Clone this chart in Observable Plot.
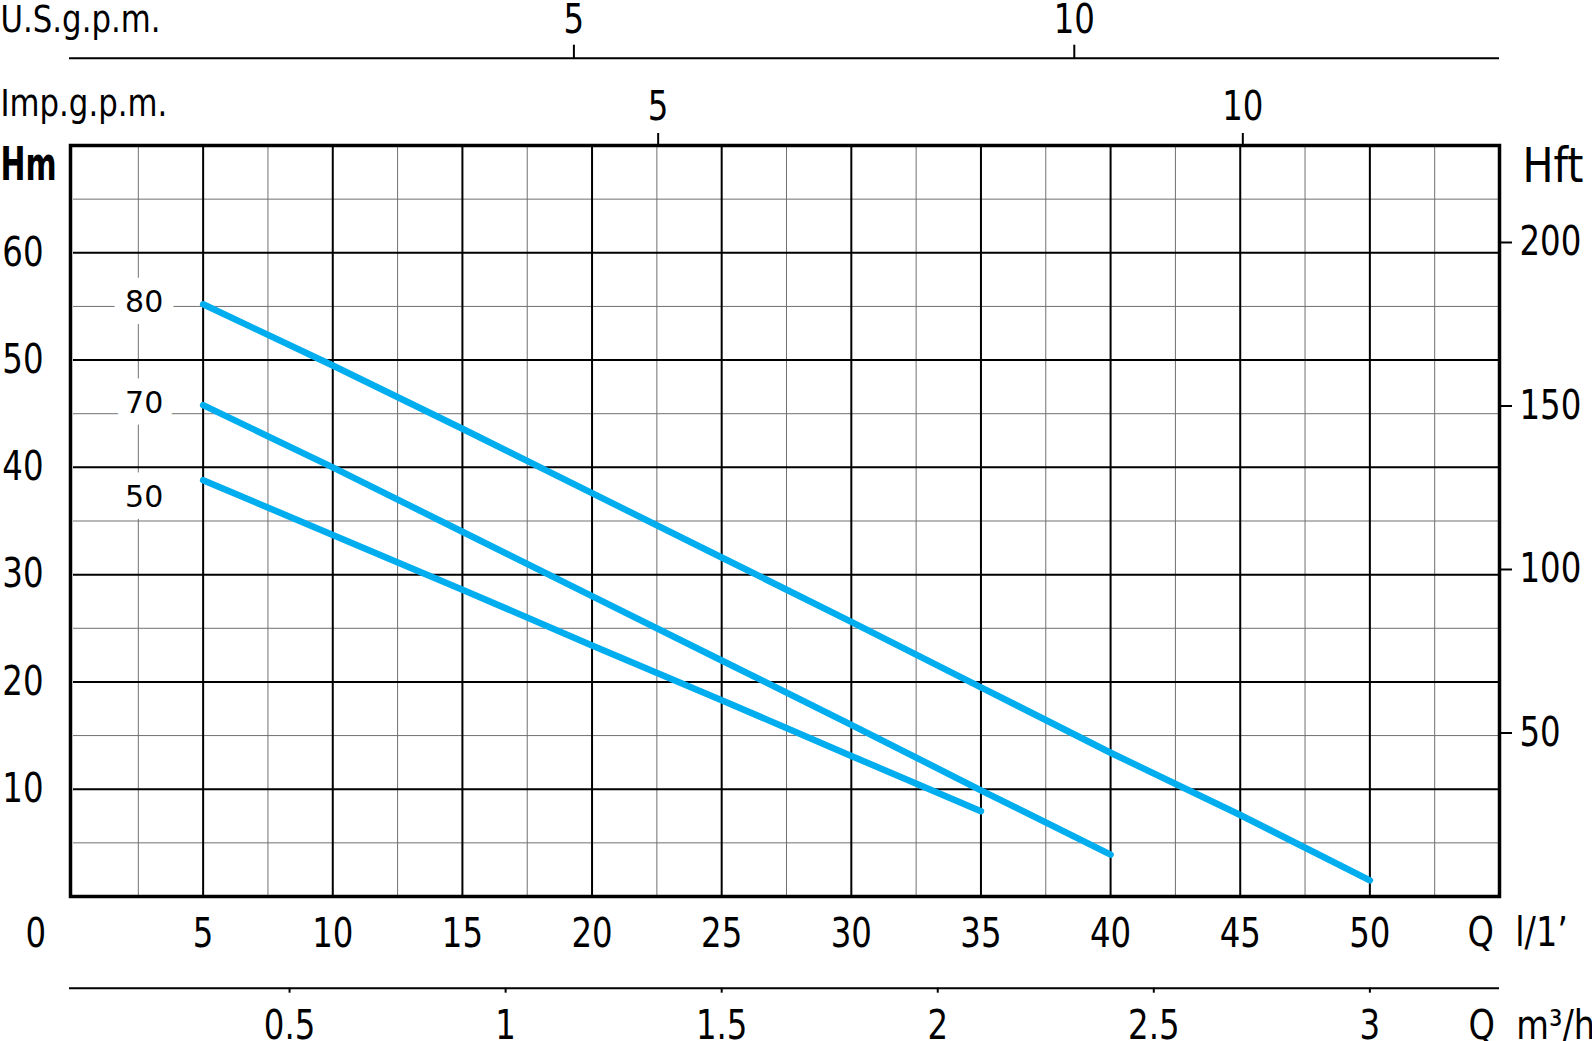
<!DOCTYPE html>
<html><head><meta charset="utf-8">
<script src="https://cdn.jsdelivr.net/npm/d3@7"></script>
<script src="https://cdn.jsdelivr.net/npm/@observablehq/plot@0.6"></script>
<style>html,body{margin:0;padding:0;background:#fff;}</style>
</head><body><div id="chart"></div>
<script>
// Pump curves: flow Q (l/min) vs head H (m), per model
const flow80 = [5, 10, 15, 20, 25, 30, 35, 40, 45, 50];
const head80 = [55.2, 49.5, 43.6, 37.6, 31.6, 25.6, 19.5, 13.4, 7.6, 1.5];
const flow70 = [5, 10, 15, 20, 25, 30, 35, 40];
const head70 = [45.8, 40.0, 34.0, 28.0, 22.0, 16.0, 9.9, 3.9];
const flow50 = [5, 10, 15, 20, 25, 30, 35];
const head50 = [38.8, 33.7, 28.6, 23.4, 18.3, 13.1, 7.95];
const models = ["80", "70", "50"];

// tick labels
const qTicks = [5, 10, 15, 20, 25, 30, 35, 40, 45, 50];       // l/min
const hmTicks = [10, 20, 30, 40, 50, 60];                      // m
const hftTicks = [50, 100, 150, 200];                          // ft
const usTicks = [5, 10];                                       // U.S. g.p.m.
const impTicks = [5, 10];                                      // Imp. g.p.m.
const m3hTicks = [0.5, 1, 1.5, 2, 2.5, 3];                     // m3/h
const minorQ = [2.5, 7.5, 12.5, 17.5, 22.5, 27.5, 32.5, 37.5, 42.5, 47.5, 52.5];
const minorH = [5, 15, 25, 35, 45, 55, 65];

// unit conversions (litres per gallon as drawn on the chart)
const US_GAL = 3.86, IMP_GAL = 4.51, M3H = 1000 / 60, FT = 0.3048;

const series = {"80": [flow80, head80], "70": [flow70, head70], "50": [flow50, head50]};
const rows = models.flatMap(m => series[m][0].map((q, i) => ({model: m, q, h: series[m][1][i]})));
const starts = models.map(m => rows.find(r => r.model === m));
const labelDy = {"80": -1.5, "70": -2, "50": 17};

const font = "'DejaVu Sans',sans-serif";
const fs = 40;

const chart = Plot.plot({
  width: 1592, height: 1041,
  marginLeft: 73, marginRight: 93, marginTop: 145, marginBottom: 145,
  x: {domain: [0, 55], axis: null},
  y: {domain: [0, 70], axis: null},
  style: {fontFamily: font, fontSize: fs + "px", color: "black", background: "white", overflow: "visible"},
  marks: [
    Plot.ruleX(minorQ, {stroke: "#707070", strokeWidth: 1}),
    Plot.ruleY(minorH, {stroke: "#707070", strokeWidth: 1}),
    Plot.ruleX(qTicks, {stroke: "black", strokeWidth: 2}),
    Plot.ruleY(hmTicks, {stroke: "black", strokeWidth: 2}),
    ...models.map(m => Plot.text(starts.filter(d => d.model === m), {
      x: "q", y: "h", text: "model", dx: -59, dy: labelDy[m],
      fontFamily: "DejaVu Sans", fontSize: 30, fill: "black",
      stroke: "white", strokeWidth: 25, className: "curvelabel"
    })),
    Plot.line(rows, {x: "q", y: "h", z: "model", stroke: "#00aeef", strokeWidth: 6.5, strokeLinecap: "round"}),
    Plot.frame({stroke: "black", strokeWidth: 3.5, insetLeft: -3}),
    // bottom Q l/min
    Plot.axisX({anchor: "bottom", ticks: qTicks, tickSize: 0, tickPadding: 22, label: null, fontSize: fs}),
    Plot.text(["0"], {frameAnchor: "bottom-left", dx: -48, dy: 22, lineAnchor: "top", fontSize: fs}),
    Plot.text(["Q  l/1\u2019"], {frameAnchor: "bottom-right", dx: -32, dy: 21, lineAnchor: "top", textAnchor: "start", fontSize: 40, className: "qlab"}),
    // left Hm
    Plot.axisY({anchor: "left", ticks: hmTicks, tickSize: 0, tickPadding: 30, label: null, fontSize: fs}),
    Plot.text(["Hm"], {frameAnchor: "top-left", dx: -73, dy: 2, lineAnchor: "top", textAnchor: "start", fontWeight: "bold", fontSize: 46, className: "hm"}),
    // right Hft
    Plot.axisY({anchor: "right", ticks: hftTicks.map(f => f * FT), tickFormat: d => Math.round(d / FT),
      tickSize: 12, tickPadding: 8, strokeWidth: 2, label: null, fontSize: fs}),
    Plot.text(["Hft"], {frameAnchor: "top-right", dx: 23, dy: 2, lineAnchor: "top", textAnchor: "start", fontSize: 48, className: "hft"}),
    // top Imp g.p.m.
    Plot.axisX({anchor: "top", ticks: impTicks.map(g => g * IMP_GAL), tickFormat: d => Math.round(d / IMP_GAL),
      tickSize: 13, tickPadding: 13, strokeWidth: 2, label: null, fontSize: fs}),
    Plot.text(["Imp.g.p.m."], {frameAnchor: "top-left", dx: -73, dy: -30, lineAnchor: "bottom", textAnchor: "start", fontSize: 38}),
    // top U.S. g.p.m.
    Plot.ruleY([70], {dy: -87.3, insetLeft: -4, stroke: "black", strokeWidth: 2}),
    Plot.axisX({anchor: "top", ticks: usTicks.map(g => g * US_GAL), tickFormat: d => Math.round(d / US_GAL),
      tickSize: 14, tickPadding: 11, strokeWidth: 2, dy: -87.3, label: null, fontSize: fs}),
    Plot.text(["U.S.g.p.m."], {frameAnchor: "top-left", dx: -73, dy: -114, lineAnchor: "bottom", textAnchor: "start", fontSize: 38}),
    // bottom m3/h
    Plot.ruleY([0], {dy: 91.7, insetLeft: -4, stroke: "black", strokeWidth: 2}),
    Plot.axisX({anchor: "bottom", ticks: m3hTicks.map(v => v * M3H), tickFormat: d => String(Math.round(d / M3H * 10) / 10),
      tickSize: 5, tickPadding: 17, strokeWidth: 2, dy: 91.7, label: null, fontSize: fs}),
    Plot.text(["Q  m\u00b3/h"], {frameAnchor: "bottom-right", dx: -31, dy: 114, lineAnchor: "top", textAnchor: "start", fontSize: 40, className: "qlab"})
  ]
});

// the drawing's lettering is a narrow technical font: condense the text horizontally
chart.querySelectorAll("text").forEach(t => {
  if (t.closest(".curvelabel")) return;
  const s = t.closest(".hm") ? 0.65 : t.closest(".hft") ? 0.86 : t.closest(".qlab") ? 0.84 : 0.81;
  t.setAttribute("transform", (t.getAttribute("transform") || "") + ` scale(${s},1)`);
});
document.getElementById("chart").appendChild(chart);
</script>
</body></html>
